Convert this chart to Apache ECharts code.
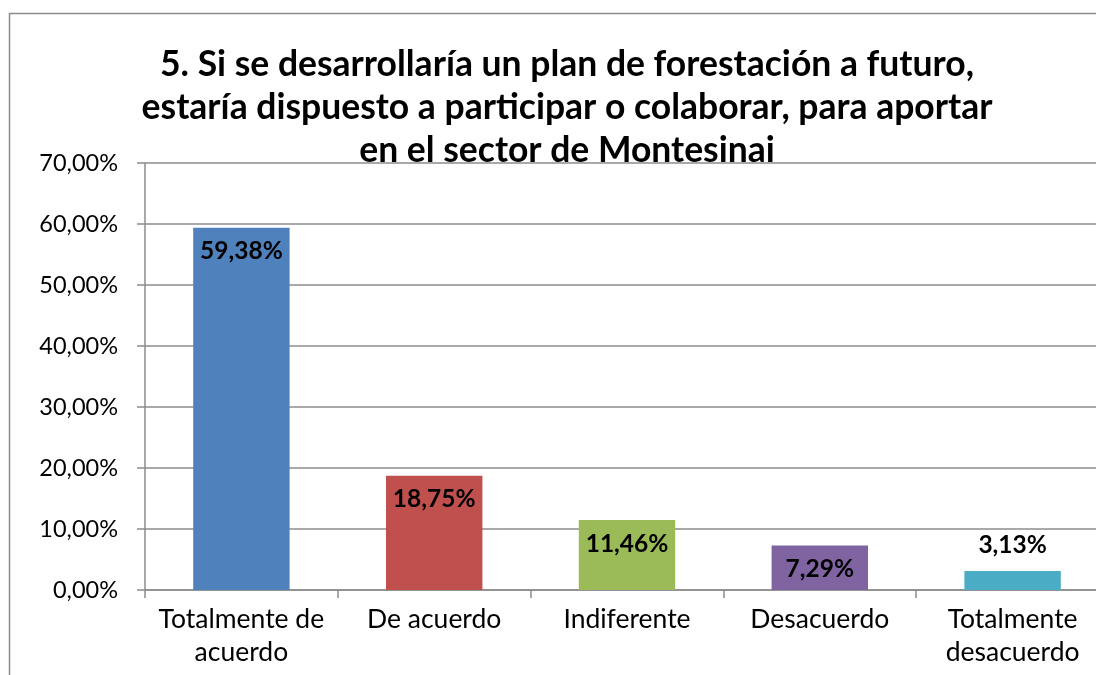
<!DOCTYPE html>
<html>
<head>
<meta charset="utf-8">
<script src="https://cdn.jsdelivr.net/npm/echarts@6/dist/echarts.min.js"></script>
<style>
html,body{margin:0;padding:0;background:#fff;}
#chart{width:1096px;height:675px;}
</style>
</head>
<body>
<div id="chart"></div>
<script>
var categories = ['Totalmente de\nacuerdo', 'De acuerdo', 'Indiferente', 'Desacuerdo', 'Totalmente\ndesacuerdo'];
var values = [59.38, 18.75, 11.46, 7.29, 3.13];
var colors = ['#4F81BD', '#C0504D', '#9BBB59', '#8064A2', '#4BACC6'];
var titleText = '5. Si se desarrollaría un plan de forestación a futuro,\nestaría dispuesto a participar o colaborar, para aportar\nen el sector de Montesinai';

var fontName = 'Lato';
var gridColor = '#8c8c8c';

function pct(v){
    return v.toFixed(2).replace('.', ',') + '%';
}

var myChart = echarts.init(document.getElementById('chart'));

var barData = values.map(function(v, i){
    var small = v < 5;
    return {
        value: v,
        itemStyle: { color: colors[i] },
        label: {
            position: small ? 'top' : 'insideTop',
            distance: small ? 13 : 11
        }
    };
});

var option = {
    backgroundColor: '#fff',
    animation: false,
    graphic: [{
        type: 'rect',
        shape: { x: 9.5, y: 13.5, width: 1200, height: 800 },
        style: { fill: 'none', stroke: '#8c8c8c', lineWidth: 1.5 },
        z: -1
    }],
    title: {
        text: titleText,
        left: 562,
        textAlign: 'center',
        top: 38,
        textStyle: {
            fontFamily: fontName,
            fontWeight: 'bold',
            fontSize: 35.5,
            lineHeight: 43,
            color: '#000'
        }
    },
    grid: {
        left: 145,
        width: 964,
        top: 163,
        bottom: 85,
        containLabel: false,
        outerBoundsMode: 'none'
    },
    xAxis: {
        type: 'category',
        data: categories,
        axisLine: { lineStyle: { color: gridColor, width: 1.5 } },
        axisTick: { show: true, length: 8, lineStyle: { color: gridColor, width: 1.5 } },
        axisLabel: {
            color: '#000',
            fontFamily: fontName,
            fontSize: 26.5,
            lineHeight: 33,
            margin: 13,
            interval: 0
        }
    },
    yAxis: {
        type: 'value',
        min: 0,
        max: 70,
        interval: 10,
        axisLine: { show: true, lineStyle: { color: gridColor, width: 1.5 } },
        axisTick: { show: true, length: 8, lineStyle: { color: gridColor, width: 1.5 } },
        splitLine: { lineStyle: { color: gridColor, width: 1.5 } },
        axisLabel: {
            color: '#000',
            fontFamily: fontName,
            fontSize: 23.5,
            margin: 27,
            formatter: function(v){ return pct(v); }
        }
    },
    series: [{
        type: 'bar',
        data: barData,
        barWidth: '50%',
        label: {
            show: true,
            color: '#000',
            fontFamily: fontName,
            fontWeight: 'bold',
            fontSize: 24.5,
            formatter: function(p){ return pct(p.value); }
        }
    }]
};
myChart.setOption(option);
</script>
</body>
</html>
